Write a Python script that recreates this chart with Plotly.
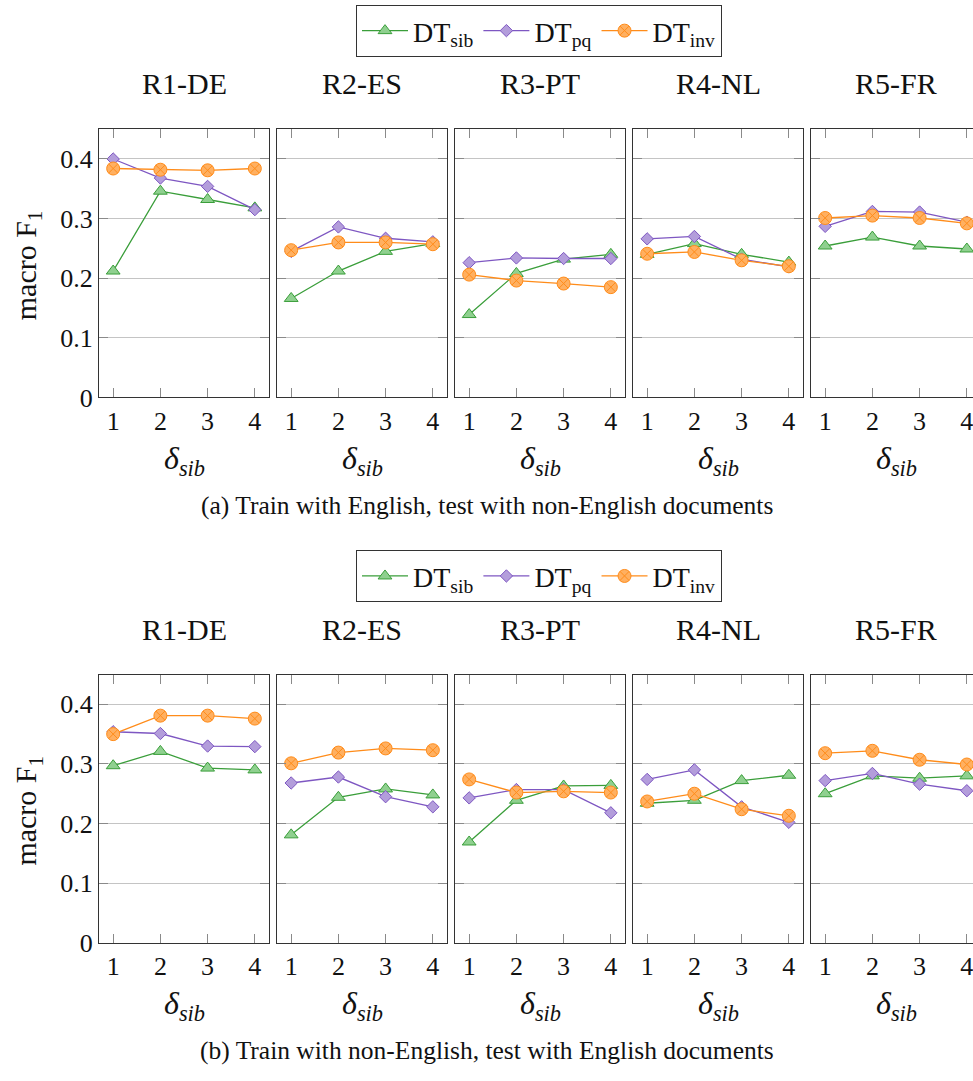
import plotly.graph_objects as go

W, H = 973, 1081
FONT = "Liberation Serif, serif"

regions = ["R1-DE", "R2-ES", "R3-PT", "R4-NL", "R5-FR"]
delta_sib = [1, 2, 3, 4]
y_ticks = [0, 0.1, 0.2, 0.3, 0.4]
y_tick_labels = ["0", "0.1", "0.2", "0.3", "0.4"]
series_names = ["DT<sub>sib</sub>", "DT<sub>pq</sub>", "DT<sub>inv</sub>"]

# (a) Train with English, test with non-English documents
a_sib = [[0.212, 0.346, 0.332, 0.318],
         [0.166, 0.212, 0.245, 0.258],
         [0.139, 0.208, 0.232, 0.240],
         [0.240, 0.258, 0.240, 0.227],
         [0.254, 0.269, 0.254, 0.249]]
a_pq = [[0.400, 0.368, 0.354, 0.315],
        [0.245, 0.286, 0.267, 0.261],
        [0.226, 0.234, 0.233, 0.233],
        [0.266, 0.270, 0.232, 0.219],
        [0.287, 0.312, 0.311, 0.294]]
a_inv = [[0.384, 0.382, 0.381, 0.384],
         [0.247, 0.260, 0.260, 0.257],
         [0.206, 0.196, 0.191, 0.185],
         [0.241, 0.244, 0.230, 0.220],
         [0.301, 0.305, 0.301, 0.292]]

# (b) Train with non-English, test with English documents
b_sib = [[0.297, 0.321, 0.293, 0.290],
         [0.181, 0.244, 0.258, 0.248],
         [0.169, 0.239, 0.263, 0.264],
         [0.234, 0.239, 0.272, 0.281],
         [0.250, 0.280, 0.276, 0.280]]
b_pq = [[0.354, 0.351, 0.330, 0.329],
        [0.268, 0.278, 0.245, 0.228],
        [0.243, 0.257, 0.257, 0.218],
        [0.274, 0.290, 0.228, 0.202],
        [0.272, 0.284, 0.266, 0.255]]
b_inv = [[0.350, 0.381, 0.381, 0.376],
         [0.301, 0.319, 0.326, 0.323],
         [0.274, 0.252, 0.254, 0.252],
         [0.237, 0.250, 0.224, 0.213],
         [0.318, 0.322, 0.307, 0.299]]

captions = ["(a) Train with English, test with non-English documents",
            "(b) Train with non-English, test with English documents"]

styles = [
    dict(line="#3a9e3a", fill="#8fd08f", symbol="triangle-up", size=12),
    dict(line="#7e57c2", fill="#b39ddb", symbol="diamond", size=9.5),
    dict(line="#ff8c1a", fill="#ffb061", symbol="circle-x", size=13),
]

# pixel layout
col_px = [(99, 269), (277, 447), (455, 625), (633, 803), (811, 973)]
row_px = [(131, 403), (684, 956)]
title_y = [85, 638]
xtitle_y = [467, 1020]
caption_y = [513, 1065]
legend_y = [5, 558]


def px_x(p):
    return p / W


def px_y(p):
    return 1 - p / H


fig = go.Figure()
data_rows = [(a_sib, a_pq, a_inv), (b_sib, b_pq, b_inv)]
annotations = []
layout_axes = {}

for r in range(2):
    for c in range(5):
        idx = r * 5 + c + 1
        sfx = "" if idx == 1 else str(idx)
        for s, vals in enumerate(data_rows[r]):
            st = styles[s]
            fig.add_trace(go.Scatter(
                x=delta_sib, y=vals[c], mode="lines+markers",
                name=series_names[s],
                line=dict(color=st["line"], width=1.3),
                marker=dict(symbol=st["symbol"], size=st["size"], color=st["fill"],
                            line=dict(color=st["line"], width=1)),
                xaxis="x" + sfx, yaxis="y" + sfx,
                legend="legend" if r == 0 else "legend2",
                showlegend=(c == 0),
            ))
        x0, x1 = col_px[c]
        y0, y1 = row_px[r]
        xr = [0.7, 4.3] if c < 4 else [0.7, 0.7 + 3.6 * (x1 - x0) / 170]
        layout_axes["xaxis" + sfx] = dict(
            domain=[px_x(x0), px_x(x1)], range=xr, anchor="y" + sfx,
            tickvals=delta_sib, ticks="inside", ticklen=9, tickcolor="#8a8a8a",
            showline=True, linecolor="#333333", linewidth=1, mirror="ticks",
            showgrid=False, zeroline=False, ticklabeloverflow="allow",
            tickfont=dict(family=FONT, size=26, color="#111"),
        )
        layout_axes["yaxis" + sfx] = dict(
            domain=[px_y(y1), px_y(y0)], range=[0, 0.45], anchor="x" + sfx,
            tickvals=y_ticks, ticktext=y_tick_labels, ticks="inside", ticklen=9,
            tickcolor="#8a8a8a", showline=True, linecolor="#333333", linewidth=1,
            mirror="ticks" if c < 4 else False,
            showgrid=True, gridcolor="#c4c4c4", gridwidth=1, zeroline=False,
            showticklabels=(c == 0),
            tickfont=dict(family=FONT, size=26, color="#111"),
        )
        cx = (x0 + (x0 + 170)) / 2
        annotations.append(dict(
            text=regions[c], x=px_x(cx), y=px_y(title_y[r]), xref="paper", yref="paper",
            xanchor="center", yanchor="middle", showarrow=False,
            font=dict(family=FONT, size=30, color="#111")))
        annotations.append(dict(
            text="<i>δ<sub>sib</sub></i>", x=px_x(cx), y=px_y(xtitle_y[r]),
            xref="paper", yref="paper", xanchor="center", yanchor="middle",
            showarrow=False, font=dict(family=FONT, size=32, color="#111")))
    annotations.append(dict(
        text="macro F<sub>1</sub>", x=px_x(28), y=px_y((row_px[r][0] + row_px[r][1]) / 2 + 2),
        xref="paper", yref="paper", xanchor="center", yanchor="middle", textangle=-90,
        showarrow=False, font=dict(family=FONT, size=30, color="#111")))
    annotations.append(dict(
        text=captions[r], x=px_x(487), y=px_y(caption_y[r]), xref="paper", yref="paper",
        xanchor="center", yanchor="middle", showarrow=False,
        font=dict(family=FONT, size=25.5, color="#111")))

legend_common = dict(
    orientation="h", xanchor="center", x=px_x(539), yanchor="top",
    bordercolor="#333333", borderwidth=1, bgcolor="white",
    font=dict(family=FONT, size=28, color="#111"), itemwidth=46,
)

fig.update_layout(
    width=W, height=H, margin=dict(l=0, r=0, t=0, b=0),
    font=dict(family=FONT, color="#111"),
    paper_bgcolor="white", plot_bgcolor="white",
    annotations=annotations,
    legend=dict(**legend_common, y=px_y(legend_y[0])),
    legend2=dict(**legend_common, y=px_y(legend_y[1])),
    **layout_axes,
)

fig.write_html("out.html")
